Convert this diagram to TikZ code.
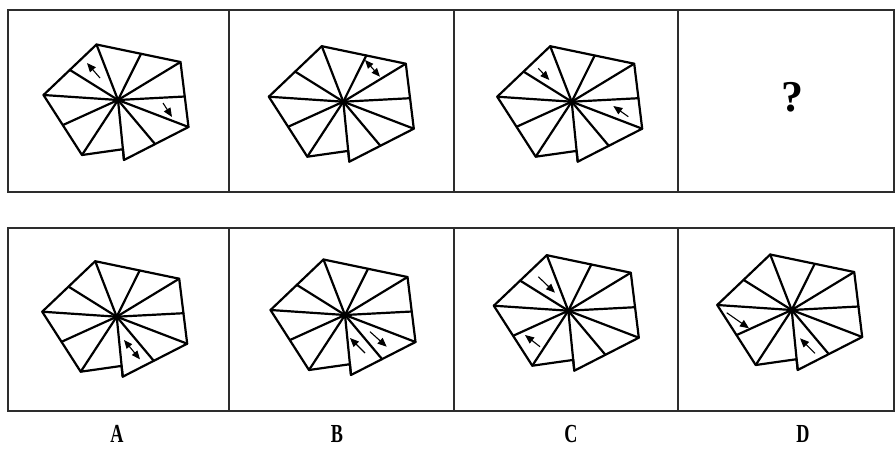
\documentclass[tikz,border=0pt]{standalone}
\usepackage{fontspec}
\setmainfont{Liberation Serif}
\newfontfamily\narrowserif[FakeStretch=0.7]{Liberation Serif}
\usetikzlibrary{arrows.meta}
\definecolor{FrameGray}{RGB}{45,45,45}
\tikzset{
  frame/.style={draw=FrameGray,line width=2.4pt},
  fanline/.style={draw=black,line width=2.2pt,line join=round,line cap=round},
  tinyarrow/.style={-{Triangle[length=9pt,width=7.5pt]},line width=1.1pt},
  twoway/.style={{Triangle[length=8.5pt,width=7pt]}-{Triangle[length=8.5pt,width=7pt]},line width=1.1pt},
  letter/.style={font=\narrowserif\bfseries\fontsize{26}{26}\selectfont,inner sep=0pt},
  query/.style={font=\bfseries\fontsize{44}{44}\selectfont,inner sep=0pt},
  fan/.pic={
    \draw[fanline] (-74.5,-5) -- (-21.5,-55.5) -- (62.5,-38) -- (70.5,27) -- (6,60)
      -- (4.9,49.2) -- (-36,55) -- cycle;
    \foreach \x/\y in {-74.5/-5,-48/-30,-21.5/-55.5,23/-46.2,62.5/-38,66.8/-3.5,
                       70.5/27,37/44,6/60,-36/55,-55/25}
      \draw[fanline] (0,0) -- (\x,\y);
  }
}

\begin{document}
\begin{tikzpicture}[x=1pt,y=-1pt]
  \useasboundingbox (0,0) rectangle (896,448);

  % the two rows of cells
  \draw[frame] (8,10) rectangle (894,192);
  \draw[frame] (8,228) rectangle (894,411);
  \foreach \x in {229,454,678} {
    \draw[frame] (\x,10) -- (\x,192);
    \draw[frame] (\x,228) -- (\x,411);
  }

  % top row
  \begin{scope}[shift={(118,100)}]
    \pic {fan};
    \draw[tinyarrow] (-18,-22) -- (-31,-37);
    \draw[tinyarrow] (45,3) -- (54,17);
  \end{scope}
  \begin{scope}[shift={(343.3,101.7)}]
    \pic {fan};
    \draw[twoway] (21.7,-41.7) -- (36.7,-25);
  \end{scope}
  \begin{scope}[shift={(571.7,101.7)}]
    \pic {fan};
    \draw[tinyarrow] (-33.4,-33.4) -- (-22.4,-21.7);
    \draw[tinyarrow] (56.6,15) -- (41.6,4.3);
  \end{scope}
  \node[query] (ask) at (792,97) {?};

  % answer row
  \begin{scope}[shift={(116.7,316.7)}]
    \pic {fan};
    \draw[twoway] (7.3,23.3) -- (23.3,42.6);
  \end{scope}
  \begin{scope}[shift={(345,315)}]
    \pic {fan};
    \draw[tinyarrow] (20,38) -- (5,23);
    \draw[tinyarrow] (25,16.7) -- (41.7,31.7);
  \end{scope}
  \begin{scope}[shift={(568.3,310.7)}]
    \pic {fan};
    \draw[tinyarrow] (-30,-34) -- (-13.3,-18);
    \draw[tinyarrow] (-28.3,36) -- (-43.3,24.3);
  \end{scope}
  \begin{scope}[shift={(791.7,310)}]
    \pic {fan};
    \draw[tinyarrow] (-65,2.7) -- (-42.7,18.3);
    \draw[tinyarrow] (23.3,43.3) -- (8.3,28.3);
  \end{scope}

  % option letters
  \node[letter] (optA) at (117,434) {A};
  \node[letter] (optB) at (337,434) {B};
  \node[letter] (optC) at (571,434) {C};
  \node[letter] (optD) at (803,434) {D};
\end{tikzpicture}
\end{document}
